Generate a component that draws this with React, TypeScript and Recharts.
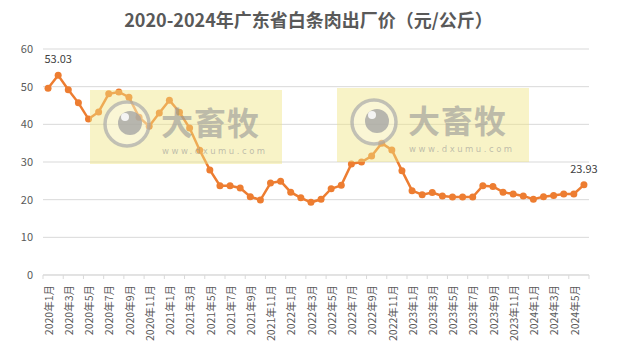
import React from "react";
import {
  LineChart, Line, XAxis, YAxis, CartesianGrid, LabelList,
} from "recharts";

const MONTHS = [
  "2020年1月", "2020年2月", "2020年3月", "2020年4月", "2020年5月", "2020年6月",
  "2020年7月", "2020年8月", "2020年9月", "2020年10月", "2020年11月", "2020年12月",
  "2021年1月", "2021年2月", "2021年3月", "2021年4月", "2021年5月", "2021年6月",
  "2021年7月", "2021年8月", "2021年9月", "2021年10月", "2021年11月", "2021年12月",
  "2022年1月", "2022年2月", "2022年3月", "2022年4月", "2022年5月", "2022年6月",
  "2022年7月", "2022年8月", "2022年9月", "2022年10月", "2022年11月", "2022年12月",
  "2023年1月", "2023年2月", "2023年3月", "2023年4月", "2023年5月", "2023年6月",
  "2023年7月", "2023年8月", "2023年9月", "2023年10月", "2023年11月", "2023年12月",
  "2024年1月", "2024年2月", "2024年3月", "2024年4月", "2024年5月", "2024年6月",
];

const PRICES = [
  49.6, 53.03, 49.2, 45.7, 41.4, 43.3, 48.1, 48.6, 47.2, 41.9, 39.5, 43.0,
  46.4, 43.2, 39.0, 33.1, 27.9, 23.7, 23.7, 23.1, 20.8, 19.9, 24.4, 24.9,
  22.0, 20.5, 19.3, 20.1, 22.9, 23.8, 29.5, 30.0, 31.6, 35.0, 33.2, 27.7,
  22.4, 21.3, 21.9, 21.0, 20.7, 20.7, 20.7, 23.7, 23.5, 22.0, 21.5, 21.0,
  20.1, 20.8, 21.1, 21.5, 21.5, 23.93,
];

// indices that carry a value label
const LABELED = [1, 53];

const Y_TICKS = [0, 10, 20, 30, 40, 50, 60];

const data = MONTHS.map((m, i) => ({ month: m, price: PRICES[i] }));

const FONT = '"Noto Sans CJK SC", "Noto Sans", sans-serif';
const ORANGE = "#ED7D31";
const GREY = "#595959";

function MonthTick(props: any) {
  const { x, y, payload } = props;
  const half = payload?.offset || 5.05;
  const idx = payload?.index ?? 0;
  const ty = y + 10;
  return (
    <g>
      <line x1={x - half} x2={x - half} y1={y} y2={y + 4} stroke="#d9d9d9" />
      {idx === MONTHS.length - 2 && (
        <line x1={x + half * 3} x2={x + half * 3} y1={y} y2={y + 4} stroke="#d9d9d9" />
      )}
      <text
        x={x + 1}
        y={ty}
        dy="0.35em"
        textAnchor="end"
        transform={`rotate(-90, ${x + 1}, ${ty})`}
        fontSize={10.5}
        fill={GREY}
        fontFamily={FONT}
      >
        {payload.value}
      </text>
    </g>
  );
}

function PointLabel(props: any) {
  const { x, y, index, value } = props;
  if (!LABELED.includes(index)) return null;
  return (
    <text x={x} y={y - 16} dy="0.35em" textAnchor="middle" fontSize={11} fill="#404040" fontFamily={FONT}>
      {value}
    </text>
  );
}

function Watermark({ left, top }: { left: number; top: number }) {
  return (
    <svg
      width={192}
      height={74}
      style={{ position: "absolute", left, top, pointerEvents: "none" }}
    >
      <rect x={0} y={0} width={192} height={74} fill="rgba(240,228,130,0.45)" />
      <circle cx={37} cy={34} r={22} fill="rgba(255,255,255,0.25)" stroke="rgba(170,170,170,0.7)" strokeWidth={3.5} />
      <circle cx={40} cy={33} r={12} fill="rgba(160,160,160,0.75)" />
      <circle cx={35} cy={27} r={4} fill="rgba(255,255,255,0.85)" />
      <text x={71} y={45} fontSize={32} letterSpacing={1} fontWeight={700} fill="rgba(150,150,150,0.6)" fontFamily={FONT}>
        大畜牧
      </text>
      <text x={72} y={64} fontSize={8.5} letterSpacing={2.5} fill="rgba(150,150,150,0.6)" fontFamily="Verdana, DejaVu Sans, sans-serif">
        www.dxumu.com
      </text>
    </svg>
  );
}

export default function App() {
  return (
    <div style={{ position: "fixed", left: 0, top: 0, width: 617, height: 349, background: "#fff" }}>
      <div
        style={{
          position: "absolute", left: 0, top: 6, width: 617, textAlign: "center",
          fontFamily: FONT, fontWeight: 700, fontSize: 18, color: GREY, lineHeight: "26px",
        }}
      >
        2020-2024年广东省白条肉出厂价（元/公斤）
      </div>
      <LineChart
        width={617}
        height={349}
        data={data}
        margin={{ top: 49, right: 28, bottom: 0, left: 0 }}
      >
        <CartesianGrid vertical={false} stroke="#d9d9d9" />
        <XAxis
          dataKey="month"
          scale="band"
          interval={1}
          height={74}
          tickSize={0}
          tickMargin={0}
          tickLine={false}
          stroke="#d9d9d9"
          tick={<MonthTick />}
        />
        <YAxis
          domain={[0, 60]}
          ticks={Y_TICKS}
          width={43}
          axisLine={false}
          tickLine={false}
          tickSize={0}
          tickMargin={10}
          tick={{ fontSize: 11, fill: GREY, fontFamily: FONT }}
        />
        <Line
          type="linear"
          dataKey="price"
          stroke={ORANGE}
          strokeWidth={2.5}
          dot={{ r: 3.5, fill: ORANGE, stroke: ORANGE, strokeWidth: 0 }}
          isAnimationActive={false}
        >
          <LabelList dataKey="price" content={<PointLabel />} />
        </Line>
      </LineChart>
      <Watermark left={90} top={90} />
      <Watermark left={337} top={88} />
    </div>
  );
}
